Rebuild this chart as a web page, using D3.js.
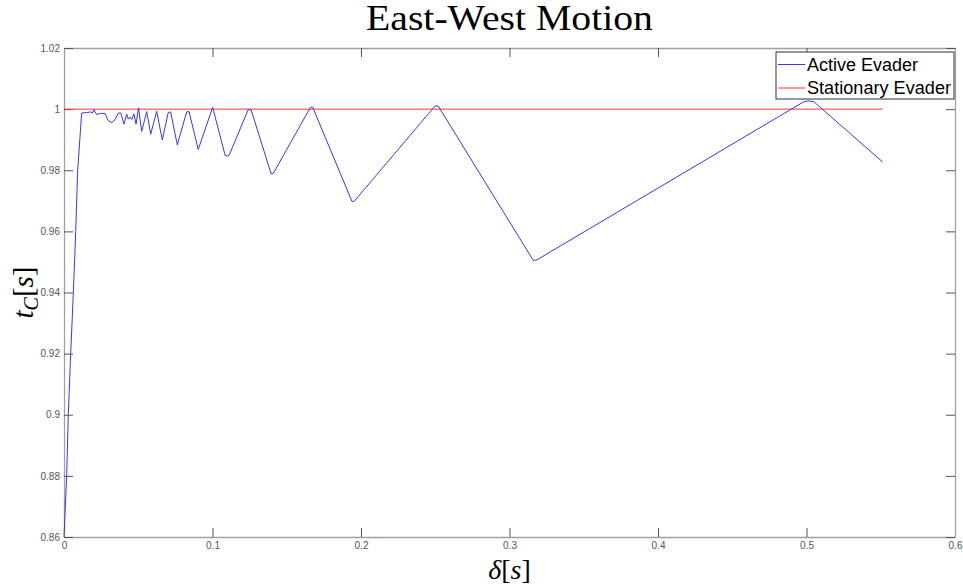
<!DOCTYPE html>
<html><head><meta charset="utf-8">
<script src="https://cdn.jsdelivr.net/npm/d3@7"></script>
<style>
body{margin:0;background:#fff;}
svg{display:block;}
</style></head>
<body><svg id="chart" width="963" height="588"></svg>
<script>
const titleText = "East-West Motion";
const activeDelta = [0, 0.0018, 0.0029, 0.0045, 0.0063, 0.0079, 0.0092, 0.0119, 0.0153, 0.018, 0.0191, 0.0202, 0.022, 0.0242, 0.0276, 0.0298, 0.0321, 0.0343, 0.0366, 0.0382, 0.0404, 0.0422, 0.0433, 0.0444, 0.0456, 0.0471, 0.0485, 0.0502, 0.0523, 0.0557, 0.0584, 0.0624, 0.0662, 0.0702, 0.0718, 0.0763, 0.0826, 0.0842, 0.0904, 0.1001, 0.1085, 0.1098, 0.1112, 0.1240, 0.1260, 0.1395, 0.1410, 0.1660, 0.1675, 0.1940, 0.1955, 0.2500, 0.2520, 0.3160, 0.3185, 0.4985, 0.5019, 0.5050, 0.5513];
const activeTc =    [0.86, 0.88, 0.90, 0.92, 0.94, 0.96, 0.98, 0.9987, 0.9989, 0.9991, 0.9987, 0.9998, 0.9982, 0.9986, 0.9986, 0.9962, 0.9956, 0.9965, 0.9987, 0.9987, 0.9951, 0.9984, 0.9967, 0.9974, 0.9966, 0.9984, 0.9951, 1.0004, 0.9927, 0.9992, 0.9918, 0.9993, 0.9899, 0.9989, 0.9991, 0.9883, 0.9991, 0.9992, 0.9868, 1.0006, 0.9849, 0.9846, 0.9849, 0.9998, 0.9998, 0.9788, 0.9790, 1.0006, 1.0006, 0.9697, 0.9699, 1.0011, 1.0010, 0.9505, 0.9507, 1.0025, 1.0027, 1.0024, 0.9827];
const stationaryDelta = [0, 0.5513];
const stationaryTc = [1, 1];
const xTicks = [0, 0.1, 0.2, 0.3, 0.4, 0.5, 0.6];
const yTicks = [0.86, 0.88, 0.9, 0.92, 0.94, 0.96, 0.98, 1, 1.02];
const legendLabels = ["Active Evader", "Stationary Evader"];

const svg = d3.select("#chart");
const L = 64, R = 955, T = 48, B = 537;
const x = d3.scaleLinear().domain([0, 0.6]).range([L, R]);
const y = d3.scaleLinear().domain([0.86, 1.02]).range([B, T]);

const fmt = d => String(+d.toFixed(2));
const tickLen = 9;
const axisColor = "#a0a0a0";
const tickColor = "#555";

function styleAxis(g){
  g.select(".domain").attr("stroke", axisColor).attr("stroke-width", 1.3);
  g.selectAll(".tick line").attr("stroke", tickColor).attr("stroke-width", 1);
  g.selectAll(".tick text").attr("fill", "#555").attr("font-family", "Liberation Sans, Arial, sans-serif").attr("font-size", 10);
}

svg.append("g").attr("transform", `translate(0,${B})`)
  .call(d3.axisBottom(x).tickValues(xTicks).tickFormat(fmt).tickSizeInner(-tickLen).tickSizeOuter(0).tickPadding(5))
  .call(styleAxis);
svg.append("g").attr("transform", `translate(0,${T})`)
  .call(d3.axisTop(x).tickValues(xTicks).tickFormat("").tickSizeInner(-tickLen).tickSizeOuter(0))
  .call(styleAxis);
svg.append("g").attr("transform", `translate(${L},0)`)
  .call(d3.axisLeft(y).tickValues(yTicks).tickFormat(fmt).tickSizeInner(-tickLen).tickSizeOuter(0).tickPadding(4))
  .call(styleAxis);
svg.append("g").attr("transform", `translate(${R},0)`)
  .call(d3.axisRight(y).tickValues(yTicks).tickFormat("").tickSizeInner(-tickLen).tickSizeOuter(0))
  .call(styleAxis);

const line = d3.line().x(d => x(d[0])).y(d => y(d[1]));
const activePts = activeDelta.map((d, i) => [d, activeTc[i]]);
const statPts = stationaryDelta.map((d, i) => [d, stationaryTc[i]]);

svg.append("path").datum(statPts).attr("d", line)
  .attr("fill", "none").attr("stroke", "#ff3030").attr("stroke-width", 1);
svg.append("path").datum(activePts).attr("d", line)
  .attr("fill", "none").attr("stroke", "#3535ff").attr("stroke-width", 1).attr("stroke-linejoin", "round");

// title
svg.append("text").attr("x", (L + R) / 2).attr("y", 30).attr("text-anchor", "middle")
  .attr("font-family", "Liberation Serif, DejaVu Serif, serif").attr("font-size", 35)
  .attr("textLength", 287).attr("lengthAdjust", "spacingAndGlyphs")
  .attr("fill", "#000").text(titleText);

// x label
const xl = svg.append("text").attr("x", (L + R) / 2).attr("y", 579).attr("text-anchor", "middle")
  .attr("font-family", "Liberation Serif, DejaVu Serif, serif").attr("font-size", 28).attr("fill", "#000");
xl.append("tspan").attr("font-style", "italic").text("δ");
xl.append("tspan").text("[");
xl.append("tspan").attr("font-style", "italic").text("s");
xl.append("tspan").text("]");

// y label
const yl = svg.append("text").attr("transform", `translate(33,${(T + B) / 2}) rotate(-90)`).attr("text-anchor", "middle")
  .attr("font-family", "Liberation Serif, DejaVu Serif, serif").attr("font-size", 29).attr("fill", "#000");
yl.append("tspan").attr("font-style", "italic").text("t");
yl.append("tspan").attr("font-style", "italic").attr("font-size", 20).attr("dy", 5).text("C");
yl.append("tspan").attr("dy", -5).text("[");
yl.append("tspan").attr("font-style", "italic").text("s");
yl.append("tspan").text("]");

// legend
const lg = svg.append("g");
lg.append("rect").attr("x", 776).attr("y", 52).attr("width", 178).attr("height", 47)
  .attr("fill", "#fff").attr("stroke", "#303030").attr("stroke-width", 1);
const legColors = ["#3535ff", "#ff3030"];
legendLabels.forEach((lab, i) => {
  const yy = 64.5 + i * 23.5;
  lg.append("line").attr("x1", 778).attr("x2", 805).attr("y1", yy).attr("y2", yy)
    .attr("stroke", legColors[i]).attr("stroke-width", 1);
  lg.append("text").attr("x", 807).attr("y", yy + 6)
    .attr("font-family", "Liberation Sans, Arial, sans-serif").attr("font-size", 17.5)
    .attr("textLength", i === 0 ? 111 : 144).attr("lengthAdjust", "spacingAndGlyphs")
    .attr("fill", "#000").text(lab);
});
</script>
</body></html>
